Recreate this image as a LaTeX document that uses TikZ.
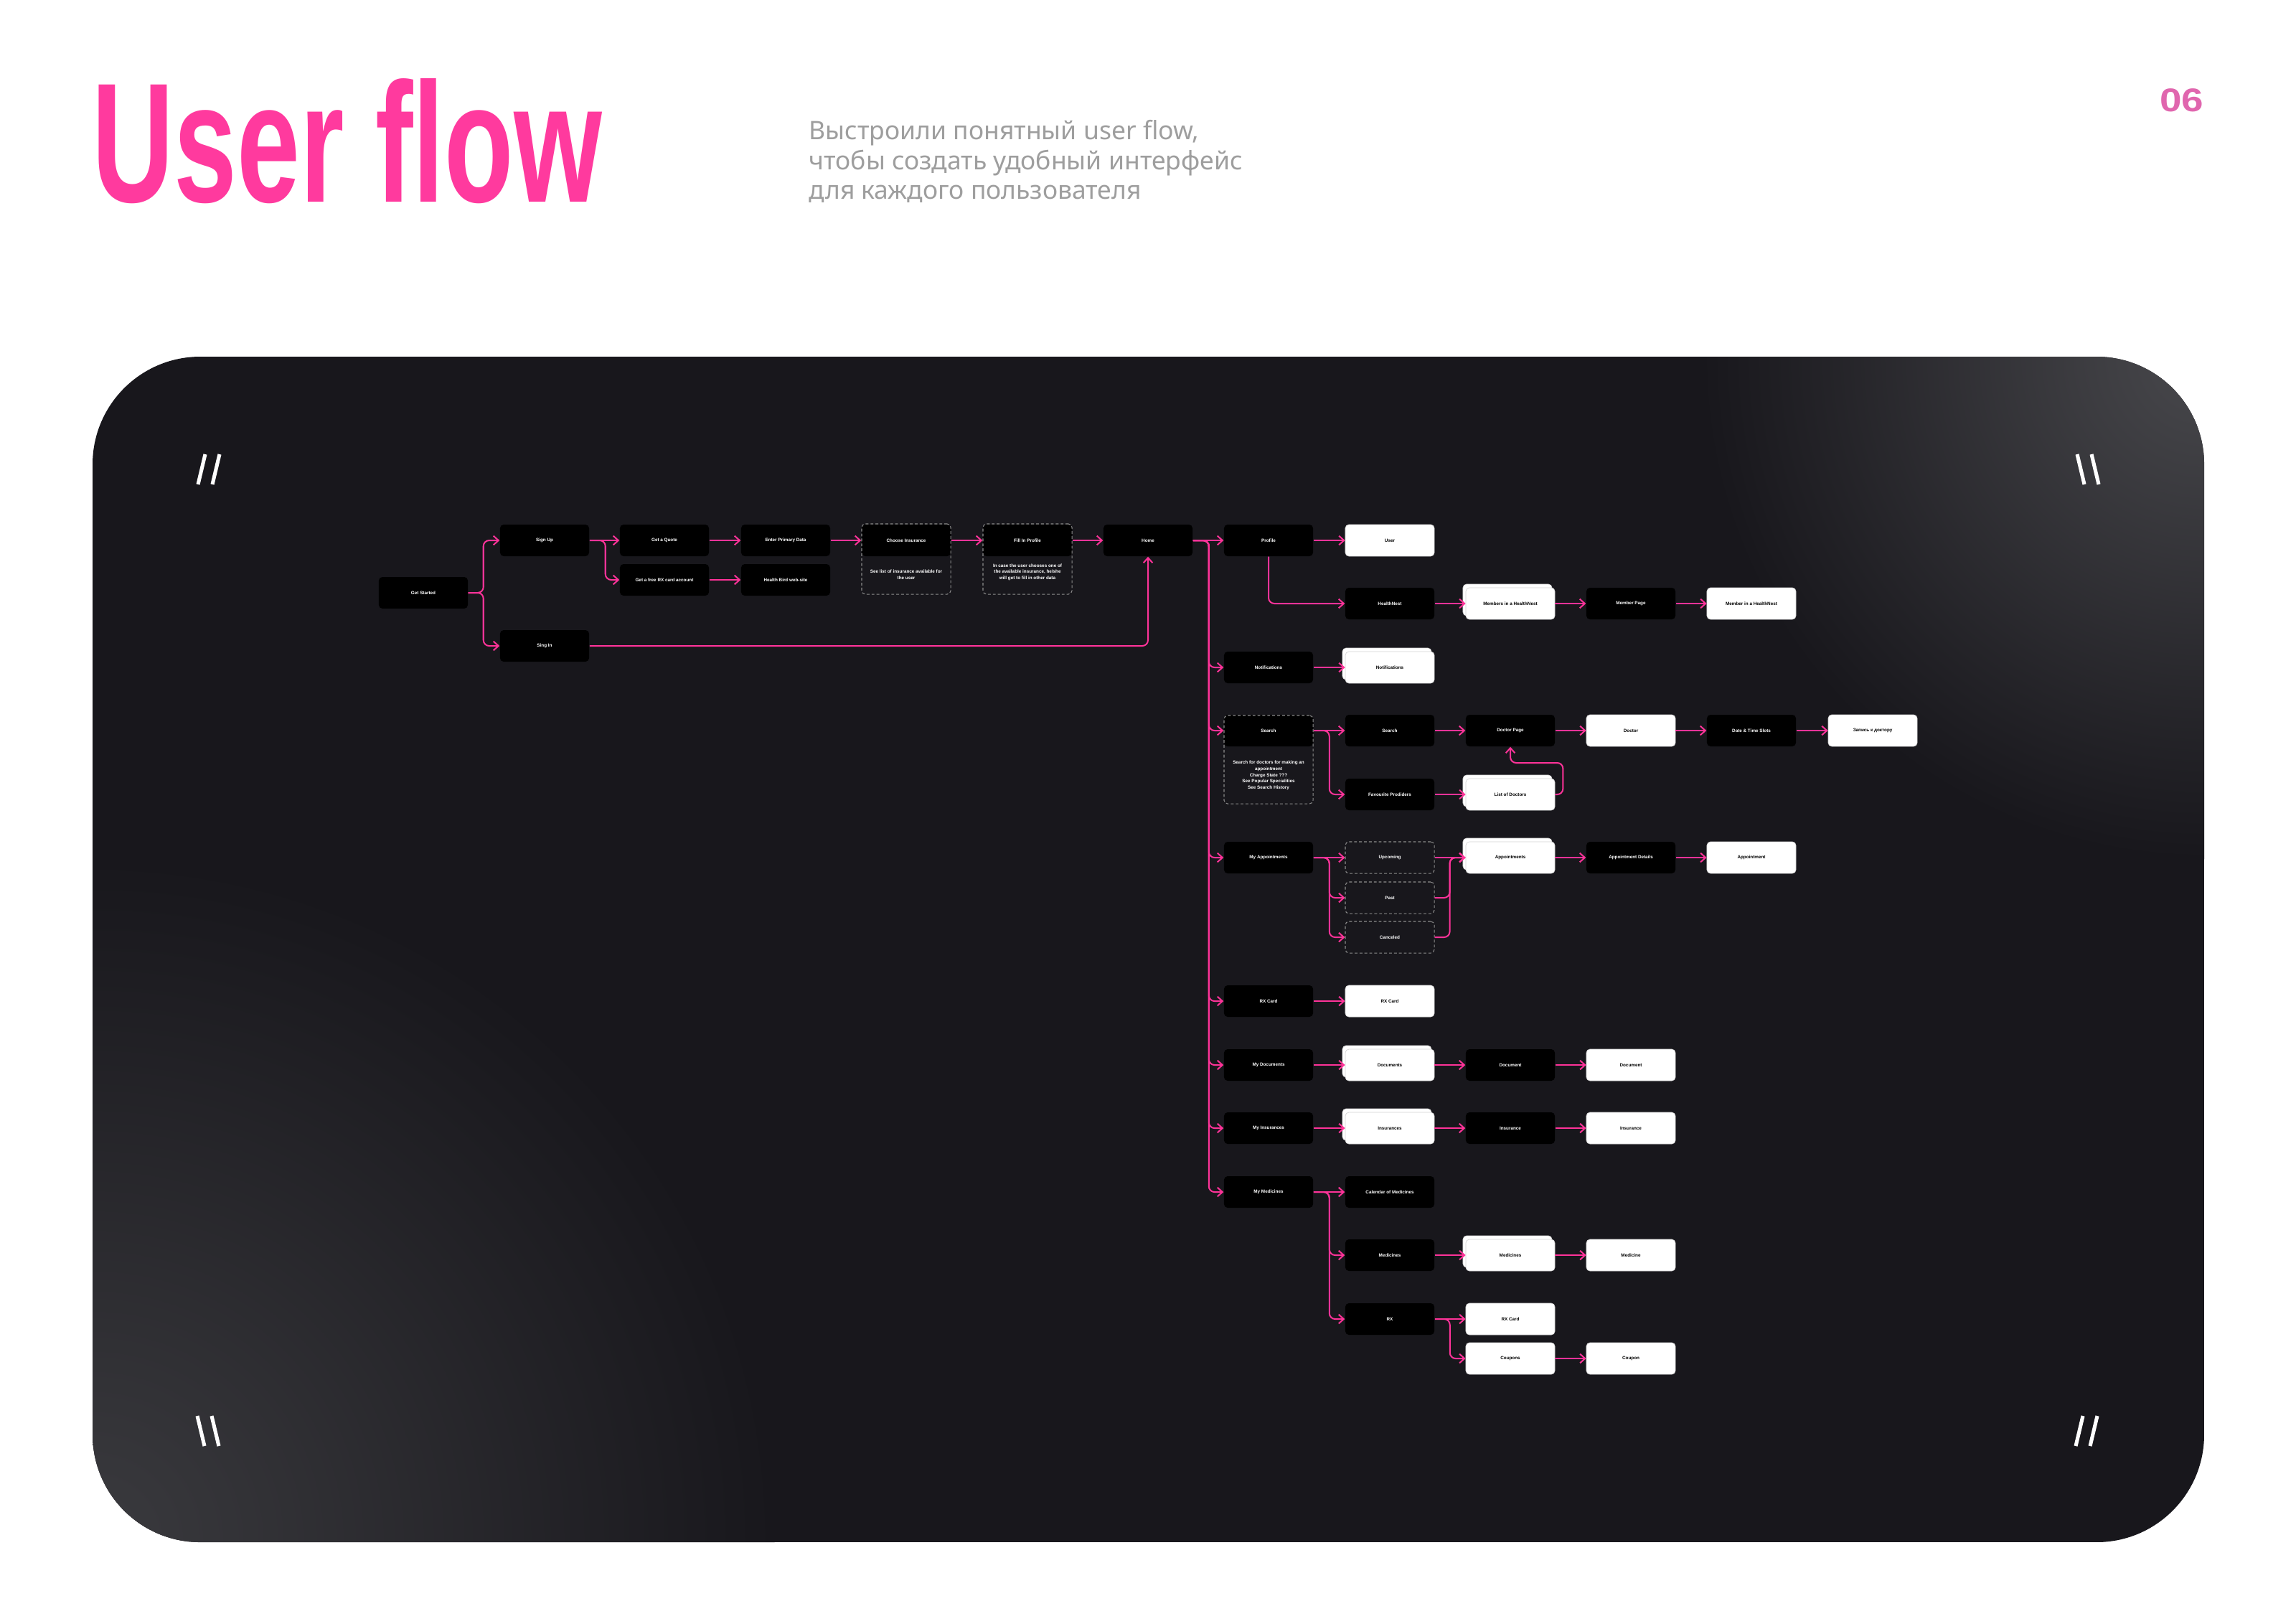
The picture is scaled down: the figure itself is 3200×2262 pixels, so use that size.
\documentclass[tikz,border=0pt]{standalone}
\usepackage{fontspec}
\setmainfont{Liberation Sans}
\newfontfamily\subfont{Noto Sans}
\usetikzlibrary{arrows.meta,shadows}
\definecolor{pinkc}{HTML}{FF3399}
\definecolor{titlepink}{HTML}{FF3A9E}
\definecolor{numpink}{HTML}{E066AE}
\definecolor{subgrey}{HTML}{9E9E9E}
\definecolor{panel}{HTML}{18171C}
\definecolor{panellightA}{HTML}{3A3A3E}
\definecolor{panellightB}{HTML}{48484C}
\definecolor{dashgrey}{HTML}{8C8C8C}
\definecolor{cardedge}{HTML}{D4D4D4}
\newcommand\lab{\fontsize{1.8}{2.45}\selectfont\bfseries}
\begin{document}
\begin{tikzpicture}[x=0.01cm,y=-0.01cm,
  box/.style={rectangle, rounded corners=0.05cm, minimum width=1.24cm, minimum height=0.44cm, inner sep=0pt, font=\lab, align=center},
  blk/.style={box, fill=black, text=white},
  wht/.style={box, fill=white, draw=cardedge, line width=0.2pt, text=black},
  stk/.style={wht, general shadow={fill=white, draw=cardedge, line width=0.2pt, shadow xshift=-1.14pt, shadow yshift=1.42pt}},
  dsh/.style={box, draw=dashgrey, line width=0.3pt, dash pattern=on 1.1pt off 0.85pt, text=white},
  grp/.style={dsh, minimum height=#1},
  desc/.style={font=\lab, text=white, align=center, inner sep=0pt},
  conn/.style={draw=pinkc, line width=0.57pt, -{Straight Barb[length=2pt, width=3.6pt, line width=0.57pt]}, rounded corners=0.08cm},
  slash/.style={white, line width=1.45pt},
  subtxt/.style={anchor=base west, inner sep=0pt, text=subgrey, font=\subfont\fontsize{10.1}{12}\selectfont},
]
\fill[white] (0,0) rectangle (3200,2262);
\useasboundingbox (0,0) rectangle (3200,2262);
% panel
\begin{scope}
\clip[rounded corners=1.5cm] (129,497) rectangle (3072,2149);
\fill[panel] (129,497) rectangle (3072,2149);
\shade[inner color=panellightA, outer color=panel] (129,2149) circle (9.5cm);
\shade[inner color=panellightB, outer color=panel] (3072,497) circle (7cm);
\end{scope}
% header
\node[anchor=base west, inner sep=0pt, text=titlepink, font=\fontsize{67.5}{70}\selectfont\bfseries] (title) at (128,281) {\scalebox{0.665}[1]{User flow}};
\node[anchor=base east, inner sep=0pt, text=numpink, font=\fontsize{13}{15}\selectfont\bfseries] (num) at (3072,155) {\scalebox{1.2}[1]{06}};
\node[subtxt] (sub1) at (1127,194) {Выстроили понятный user flow,};
\node[subtxt] (sub2) at (1127,236) {чтобы создать удобный интерфейс};
\node[subtxt] (sub3) at (1127,277) {для каждого пользователя};
% slashes
\draw[slash] (276,675) -- (286,633) (296,675) -- (306,633);
\draw[slash] (2895,633) -- (2905,675) (2915,633) -- (2925,675);
\draw[slash] (275,1973) -- (285,2015) (295,1973) -- (305,2015);
\draw[slash] (2893,2015) -- (2903,1973) (2913,2015) -- (2923,1973);
% nodes
\node[blk] (gs) at (590,826) {Get Started};
\node[blk] (signup) at (759,753) {Sign Up};
\node[blk] (singin) at (759,900) {Sing In};
\node[blk] (quote) at (926,753) {Get a Quote};
\node[blk] (freerx) at (926,808) {Get a free RX card account};
\node[blk] (primary) at (1095,753) {Enter Primary Data};
\node[blk] (hbweb) at (1095,808) {Health Bird web-site};
\node[blk] (choosetop) at (1263,753) {Choose Insurance};
\node[grp=0.98cm] (choose) at (1263,779) {};
\node[desc] (choosed) at (1263,801) {See list of insurance available for\\the user};
\node[blk] (filltop) at (1432,753) {Fill In Profile};
\node[grp=0.98cm] (fill) at (1432,779) {};
\node[desc] (filld) at (1432,797) {In case the user chooses one of\\the available insurance, he/she\\will get to fill in other data};
\node[blk] (home) at (1600,753) {Home};
\node[blk] (profile) at (1768,753) {Profile};
\node[wht] (user) at (1937,753) {User};
\node[blk] (hnest) at (1937,841) {HealthNest};
\node[stk] (members) at (2105,841) {Members in a HealthNest};
\node[blk] (mpage) at (2273,841) {Member Page};
\node[wht] (memberin) at (2441,841) {Member in a HealthNest};
\node[blk] (notif) at (1768,930) {Notifications};
\node[stk] (notifw) at (1937,930) {Notifications};
\node[blk] (searchtop) at (1768,1018) {Search};
\node[grp=1.23cm] (searchgrp) at (1768,1058.5) {};
\node[desc] (searchd) at (1768,1080.5) {Search for doctors for making an\\appointment\\Charge State ???\\See Popular Specialities\\See Search History};
\node[blk] (search) at (1937,1018) {Search};
\node[blk] (dpage) at (2105,1018) {Doctor Page};
\node[wht] (doctor) at (2273,1018) {Doctor};
\node[blk] (slots) at (2441,1018) {Date \& Time Slots};
\node[wht] (zapis) at (2610,1018) {Запись к доктору};
\node[blk] (fav) at (1937,1107) {Favourite Prodiders};
\node[stk] (ldoc) at (2105,1107) {List of Doctors};
\node[blk] (myappt) at (1768,1195) {My Appointments};
\node[dsh] (upc) at (1937,1195) {Upcoming};
\node[dsh] (past) at (1937,1251) {Past};
\node[dsh] (canc) at (1937,1306) {Canceled};
\node[stk] (appts) at (2105,1195) {Appointments};
\node[blk] (apptd) at (2273,1195) {Appointment Details};
\node[wht] (appt) at (2441,1195) {Appointment};
\node[blk] (rxc) at (1768,1395) {RX Card};
\node[wht] (rxcw) at (1937,1395) {RX Card};
\node[blk] (mydocs) at (1768,1484) {My Documents};
\node[stk] (docs) at (1937,1484) {Documents};
\node[blk] (doc1) at (2105,1484) {Document};
\node[wht] (doc2) at (2273,1484) {Document};
\node[blk] (myins) at (1768,1572) {My Insurances};
\node[stk] (ins) at (1937,1572) {Insurances};
\node[blk] (ins1) at (2105,1572) {Insurance};
\node[wht] (ins2) at (2273,1572) {Insurance};
\node[blk] (mymed) at (1768,1661) {My Medicines};
\node[blk] (cal) at (1937,1661) {Calendar of Medicines};
\node[blk] (meds) at (1937,1749) {Medicines};
\node[stk] (medsw) at (2105,1749) {Medicines};
\node[wht] (med) at (2273,1749) {Medicine};
\node[blk] (rx) at (1937,1838) {RX};
\node[wht] (rxc2) at (2105,1838) {RX Card};
\node[wht] (coupons) at (2105,1893) {Coupons};
\node[wht] (coupon) at (2273,1893) {Coupon};
% connectors
\draw[conn] (gs.east) -- ++(21,0) |- (signup.west);
\draw[conn] (gs.east) -- ++(21,0) |- (singin.west);
\draw[conn] (signup.east) -- (quote.west);
\draw[conn] (signup.east) -- ++(22,0) |- (freerx.west);
\draw[conn] (quote.east) -- (primary.west);
\draw[conn] (freerx.east) -- (hbweb.west);
\draw[conn] (primary.east) -- (choosetop.west);
\draw[conn] (choosetop.east) -- (filltop.west);
\draw[conn] (filltop.east) -- (home.west);
\draw[conn] (singin.east) -| (home.south);
\draw[conn] (home.east) -- (profile.west);
\foreach \t in {notif,searchtop,myappt,rxc,mydocs,myins,mymed}
  \draw[conn] (home.east) -- ++(22,0) |- (\t.west);
\draw[conn] (profile.east) -- (user.west);
\draw[conn] (profile.south) |- (hnest.west);
\draw[conn] (hnest.east) -- (members.west);
\draw[conn] (members.east) -- (mpage.west);
\draw[conn] (mpage.east) -- (memberin.west);
\draw[conn] (notif.east) -- (notifw.west);
\draw[conn] (searchtop.east) -- (search.west);
\draw[conn] (searchtop.east) -- ++(22,0) |- (fav.west);
\draw[conn] (search.east) -- (dpage.west);
\draw[conn] (dpage.east) -- (doctor.west);
\draw[conn] (doctor.east) -- (slots.west);
\draw[conn] (slots.east) -- (zapis.west);
\draw[conn] (fav.east) -- (ldoc.west);
\draw[conn] (ldoc.east) -- ++(11,0) -- ++(0,-44) -| (dpage.south);
\draw[conn] (myappt.east) -- (upc.west);
\draw[conn] (myappt.east) -- ++(22,0) |- (past.west);
\draw[conn] (myappt.east) -- ++(22,0) |- (canc.west);
\draw[conn] (upc.east) -- (appts.west);
\draw[conn] (past.east) -- ++(21,0) |- (appts.west);
\draw[conn] (canc.east) -- ++(21,0) |- (appts.west);
\draw[conn] (appts.east) -- (apptd.west);
\draw[conn] (apptd.east) -- (appt.west);
\draw[conn] (rxc.east) -- (rxcw.west);
\draw[conn] (mydocs.east) -- (docs.west);
\draw[conn] (docs.east) -- (doc1.west);
\draw[conn] (doc1.east) -- (doc2.west);
\draw[conn] (myins.east) -- (ins.west);
\draw[conn] (ins.east) -- (ins1.west);
\draw[conn] (ins1.east) -- (ins2.west);
\draw[conn] (mymed.east) -- (cal.west);
\draw[conn] (mymed.east) -- ++(22,0) |- (meds.west);
\draw[conn] (mymed.east) -- ++(22,0) |- (rx.west);
\draw[conn] (meds.east) -- (medsw.west);
\draw[conn] (medsw.east) -- (med.west);
\draw[conn] (rx.east) -- (rxc2.west);
\draw[conn] (rx.east) -- ++(21,0) |- (coupons.west);
\draw[conn] (coupons.east) -- (coupon.west);
\end{tikzpicture}
\end{document}
